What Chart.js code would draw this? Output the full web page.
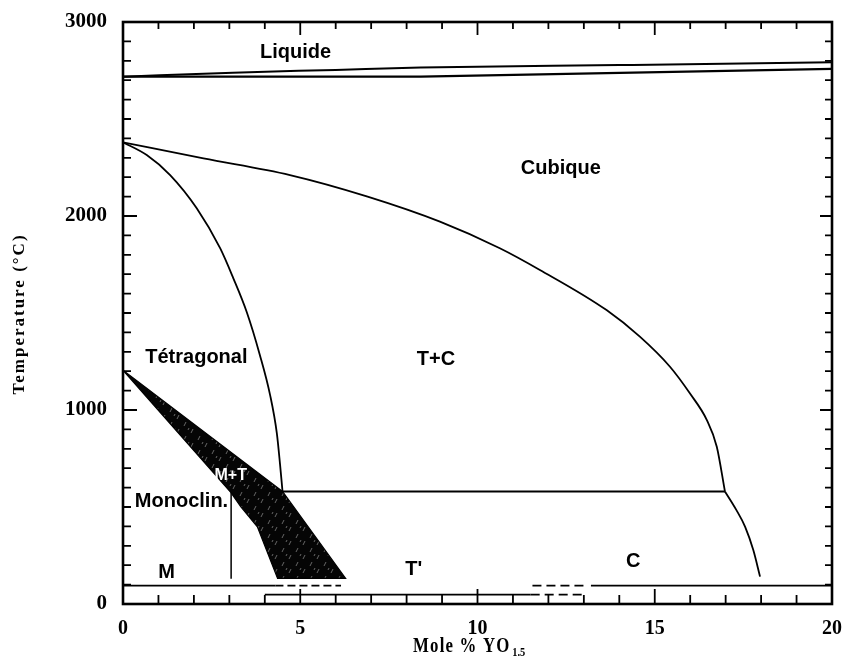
<!DOCTYPE html>
<html>
<head>
<meta charset="utf-8">
<script src="https://cdn.jsdelivr.net/npm/chart.js@4.4.0/dist/chart.umd.min.js"></script>
<style>
  html, body { margin: 0; padding: 0; background: #fff; }
  #chart { display: block; }
</style>
</head>
<body>
<canvas id="chart" width="843" height="667"></canvas>
<script>
// ZrO2 - YO1.5 phase diagram (mol % YO1.5 vs temperature)

const xTicks = [0, 5, 10, 15, 20];
const tTicks = [0, 1000, 2000, 3000];

// liquidus / solidus near the top
const liquidusX = [0, 3.1, 6, 8.4, 14, 20];
const liquidusT = [2718, 2739, 2753, 2765, 2778, 2792];
const solidusX = [0, 8.4, 20];
const solidusT = [2718, 2718, 2758];

// cubic / (T+C) boundary down to the eutectoid, then below it
const cubicX = [0, 2.27, 4.71, 6.9, 8.94, 10.63, 11.76, 13.64, 14.58, 15.43, 15.99, 16.47, 16.75, 16.98];
const cubicT = [2380, 2297, 2211, 2100, 1971, 1834, 1722, 1515, 1378, 1223, 1086, 948, 811, 580];
const cubicLowX = [16.98, 17.3, 17.55, 17.78, 17.97];
const cubicLowT = [580, 485, 398, 278, 141];

// tetragonal / (T+C) boundary
const tetraX = [0, 0.67, 1.33, 2.08, 2.74, 3.11, 3.49, 3.86, 4.15, 4.34, 4.43, 4.5];
const tetraT = [2380, 2314, 2211, 2040, 1834, 1680, 1505, 1284, 1077, 880, 720, 580];

// M+T two phase field (closed outline)
const mtX = [0, 4.5, 6.28, 4.36, 3.79, 3.32, 3.04, 0];
const mtT = [1205, 580, 132, 132, 398, 502, 575, 1205];

// eutectoid and the monoclinic limit
const eutectoidX = [4.5, 16.98];
const eutectoidT = [580, 580];
const monoX = [3.05, 3.05];
const monoT = [575, 130];

// low temperature lines (solid and dashed parts)
const low1SolidX = [0, 4.3];
const low1DashX = [4.3, 6.15];
const low1Dash2X = [11.55, 13.0];
const low1Solid2X = [13.2, 20];
const low1T = [95, 95];
const low2SolidX = [4.0, 11.5];
const low2DashX = [11.5, 13.0];
const low2T = [48, 48];

// region names
const regionNames = ['Liquide', 'Cubique', 'Tétragonal', 'T+C', 'M+T', 'Monoclin.', 'M', "T'", 'C'];
const regionX = [4.87, 12.35, 2.07, 8.83, 3.04, 1.65, 1.23, 8.2, 14.39];
const regionT = [2817, 2215, 1244, 1232, 639, 502, 132, 150, 192];

function pts(xs, ts) {
    return xs.map((x, i) => ({ x: x, y: ts[i] }));
}

function line(xs, ts, opts) {
    return Object.assign({
        data: pts(xs, ts),
        showLine: true,
        borderColor: '#000',
        borderWidth: 1.8,
        pointRadius: 0,
        fill: false,
        tension: 0
    }, opts || {});
}

function curve(xs, ts, opts) {
    return line(xs, ts, Object.assign({ tension: 0.4, cubicInterpolationMode: 'monotone' }, opts || {}));
}

// dark speckled fill for M+T
function makePattern() {
    const c = document.createElement('canvas');
    c.width = 14;
    c.height = 14;
    const g = c.getContext('2d');
    g.fillStyle = '#050505';
    g.fillRect(0, 0, 14, 14);
    g.strokeStyle = 'rgba(200,200,200,0.5)';
    g.lineWidth = 1;
    g.beginPath();
    g.moveTo(2, 6); g.lineTo(4, 2);
    g.moveTo(9, 13); g.lineTo(11, 9);
    g.moveTo(6, 10); g.lineTo(7, 8);
    g.stroke();
    return g.createPattern(c, 'repeat');
}

const framePlugin = {
    id: 'frame',
    afterDatasetsDraw(chart) {
        const ctx = chart.ctx;
        const xs = chart.scales.x;
        const ys = chart.scales.y;
        const a = chart.chartArea;
        ctx.save();
        ctx.strokeStyle = '#000';

        // inward ticks
        ctx.lineWidth = 1.8;
        ctx.beginPath();
        for (let v = 0; v <= 20; v++) {
            const px = xs.getPixelForValue(v);
            const major = v % 5 === 0;
            ctx.moveTo(px, a.bottom);
            ctx.lineTo(px, a.bottom - (major ? 15 : 9));
            ctx.moveTo(px, a.top);
            ctx.lineTo(px, a.top + (major ? 13 : 7));
        }
        for (let t = 0; t <= 3000; t += 100) {
            const py = ys.getPixelForValue(t);
            const major = t % 1000 === 0;
            ctx.moveTo(a.left, py);
            ctx.lineTo(a.left + (major ? 14 : 8), py);
            ctx.moveTo(a.right, py);
            ctx.lineTo(a.right - (major ? 12 : 7), py);
        }
        ctx.stroke();

        // frame
        ctx.lineWidth = 2.6;
        ctx.strokeRect(a.left, a.top, a.right - a.left, a.bottom - a.top);

        // region names
        ctx.textBaseline = 'alphabetic';
        ctx.textAlign = 'center';
        regionNames.forEach((name, i) => {
            const px = xs.getPixelForValue(regionX[i]);
            const py = ys.getPixelForValue(regionT[i]);
            if (name === 'M+T') {
                ctx.fillStyle = '#fff';
                ctx.font = 'bold 16px "Liberation Sans", Arial, sans-serif';
            } else {
                ctx.fillStyle = '#000';
                ctx.font = 'bold 20px "Liberation Sans", Arial, sans-serif';
            }
            ctx.fillText(name, px, py);
        });

        // axis titles
        ctx.fillStyle = '#000';
        ctx.font = 'bold 17px "Liberation Serif", "Times New Roman", serif';
        ctx.letterSpacing = '2px';
        ctx.save();
        ctx.translate(24, 314);
        ctx.rotate(-Math.PI / 2);
        ctx.textAlign = 'center';
        ctx.fillText('Temperature (°C)', 0, 0);
        ctx.restore();

        ctx.save();
        ctx.translate(413, 652);
        ctx.scale(0.8, 1);
        ctx.font = 'bold 21px "Liberation Serif", "Times New Roman", serif';
        ctx.letterSpacing = '1.5px';
        ctx.textAlign = 'left';
        const main = 'Mole % YO';
        ctx.fillText(main, 0, 0);
        const w = ctx.measureText(main).width;
        ctx.font = 'bold 13px "Liberation Serif", "Times New Roman", serif';
        ctx.letterSpacing = '0px';
        ctx.fillText('1.5', w + 2, 4);
        ctx.restore();
        ctx.restore();
    }
};

const ctx = document.getElementById('chart').getContext('2d');

new Chart(ctx, {
    type: 'scatter',
    data: {
        datasets: [
            line(mtX, mtT, { fill: 'shape', backgroundColor: makePattern(), borderWidth: 1.2 }),
            curve(liquidusX, liquidusT, { borderWidth: 2 }),
            line(solidusX, solidusT, { borderWidth: 2.2 }),
            curve(cubicX, cubicT),
            curve(cubicLowX, cubicLowT),
            curve(tetraX, tetraT),
            line(eutectoidX, eutectoidT),
            line(monoX, monoT, { borderWidth: 1.5 }),
            line(low1SolidX, low1T),
            line(low1DashX, low1T, { borderDash: [8, 4] }),
            line(low1Dash2X, low1T, { borderDash: [9, 5] }),
            line(low1Solid2X, low1T),
            line(low2SolidX, low2T),
            line(low2DashX, low2T, { borderDash: [9, 5] })
        ]
    },
    options: {
        responsive: false,
        animation: false,
        layout: { padding: { top: 22, right: 11, left: 0, bottom: 0 } },
        plugins: {
            legend: { display: false },
            tooltip: { enabled: false }
        },
        scales: {
            x: {
                type: 'linear',
                min: 0,
                max: 20,
                afterFit: s => { s.height = 63; s.paddingLeft = 0; s.paddingRight = 0; },
                afterBuildTicks: s => { s.ticks = xTicks.map(v => ({ value: v })); },
                grid: { display: false, drawTicks: false },
                border: { display: false },
                ticks: {
                    color: '#000',
                    padding: 13,
                    maxRotation: 0,
                    callback: v => String(v),
                    font: { family: '"Liberation Serif", "Times New Roman", serif', size: 20, weight: 'bold' }
                }
            },
            y: {
                type: 'linear',
                min: 0,
                max: 3000,
                afterFit: s => { s.width = 123; s.paddingTop = 0; s.paddingBottom = 0; },
                afterBuildTicks: s => { s.ticks = tTicks.map(v => ({ value: v })); },
                grid: { display: false, drawTicks: false },
                border: { display: false },
                ticks: {
                    color: '#000',
                    padding: 16,
                    callback: v => String(v),
                    font: { family: '"Liberation Serif", "Times New Roman", serif', size: 21, weight: 'bold' }
                }
            }
        }
    },
    plugins: [framePlugin]
});
</script>
</body>
</html>
